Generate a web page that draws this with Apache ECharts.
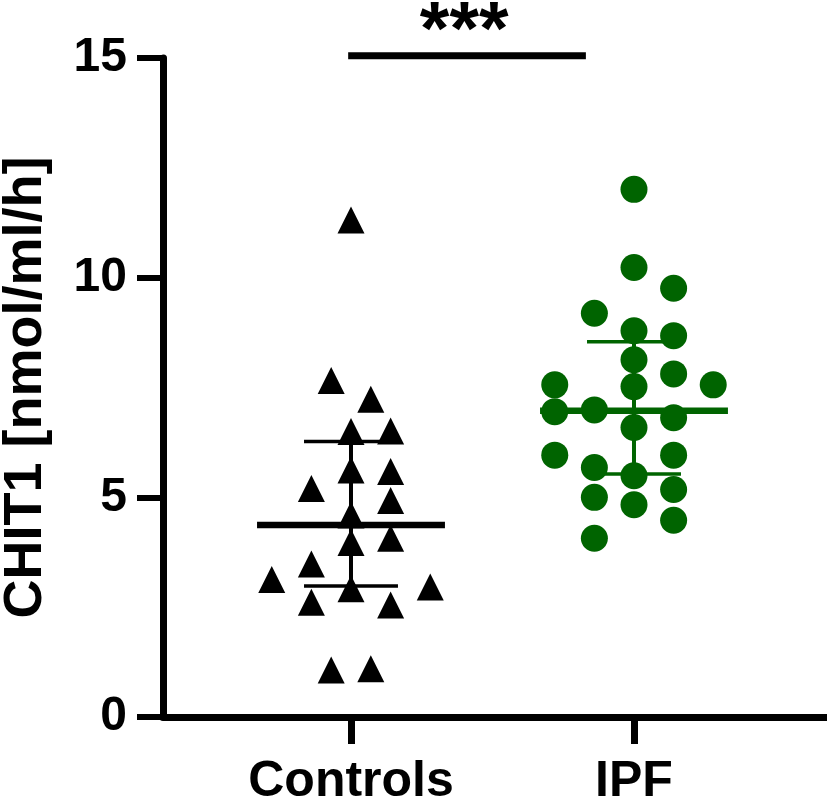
<!DOCTYPE html>
<html lang="en">
<head>
<meta charset="UTF-8">
<title>CHIT1 Controls vs IPF</title>
<script src="https://cdn.jsdelivr.net/npm/echarts@6/dist/echarts.min.js"></script>
</head>
<body style="margin:0;background:#fff">
<div id="main" style="width:827px;height:797px;"></div>
<script>
    // groups on a numeric x axis: Controls = 1, IPF = 2
    var groups = ['Controls', 'IPF'];
    var groupX = [1, 2];

    // Controls (triangles): values and horizontal jitter (x units)
    var controlsValues = [11.31, 7.66, 7.23, 6.50, 6.51, 5.62, 5.59, 5.20, 4.93, 4.60,
                          4.07, 3.97, 3.48, 3.13, 2.92, 2.96, 2.61, 2.55, 1.07, 1.10];
    var controlsJitter = [0, -0.07, 0.07, 0, 0.14, 0, 0.14, -0.14, 0.14, 0,
                          0.14, 0, -0.14, -0.28, 0, 0.28, -0.14, 0.14, -0.07, 0.07];

    // IPF (circles)
    var ipfValues = [12.01, 10.23, 9.76, 9.19, 8.79, 8.68, 8.13, 7.81, 7.56, 7.56, 7.52, 6.95,
                     6.99, 6.81, 6.59, 5.96, 5.96, 5.68, 5.49, 5.18, 5.00, 4.83, 4.48, 4.07];
    var ipfJitter = [0, 0, 0.14, -0.14, 0, 0.14, 0, 0.14, -0.28, 0.28, 0, -0.28,
                     -0.14, 0.14, 0, -0.28, 0.14, -0.14, 0, 0.14, -0.14, 0, 0.14, -0.14];

    // median with interquartile range
    var medians = [4.37, 6.97];
    var q1 = [2.98, 5.53];
    var q3 = [6.27, 8.54];

    var yTicks = [0, 5, 10, 15];

    // significance bracket
    var sigX = [0.99, 1.83];
    var sigY = 15.05;
    var sigText = '***';
    var sigTextPos = [1.40, 15.57];

    var FONT = 'Arial, "Liberation Sans", sans-serif';
    var GREEN = '#006400';

    function points(values, jitter, gx) {
        var out = [];
        for (var i = 0; i < values.length; i++) {
            out.push([gx + jitter[i], values[i]]);
        }
        return out;
    }

    var summaryData = [];
    for (var g = 0; g < groupX.length; g++) {
        summaryData.push([groupX[g], medians[g], q1[g], q3[g]]);
    }
    var summaryColors = ['#000', GREEN];

    function renderSummary(params, api) {
        var x = api.value(0);
        var med = api.coord([x, api.value(1)]);
        var lo = api.coord([x, api.value(2)]);
        var hi = api.coord([x, api.value(3)]);
        var medHalf = api.size([0.332, 0])[0];
        var capHalf = api.size([0.166, 0])[0];
        var color = summaryColors[params.dataIndex];
        function seg(x1, y1, x2, y2, w) {
            return {
                type: 'line',
                shape: {x1: x1, y1: y1, x2: x2, y2: y2},
                style: {stroke: color, lineWidth: w}
            };
        }
        return {
            type: 'group',
            children: [
                seg(lo[0], lo[1], hi[0], hi[1], 4),
                seg(hi[0] - capHalf, hi[1], hi[0] + capHalf, hi[1], 3.5),
                seg(lo[0] - capHalf, lo[1], lo[0] + capHalf, lo[1], 3.5),
                seg(med[0] - medHalf, med[1], med[0] + medHalf, med[1], 6.5)
            ]
        };
    }

    var myChart = echarts.init(document.getElementById('main'));

    var option = {
        animation: false,
        backgroundColor: '#fff',
        grid: {left: 163, right: 0, top: 58, bottom: 80, containLabel: false, outerBoundsMode: 'none'},
        xAxis: {
            type: 'value',
            min: 0.3357,
            max: 2.682,
            splitLine: {show: false},
            axisLine: {show: true, lineStyle: {color: '#000', width: 7}},
            axisTick: {show: true, customValues: groupX, length: 27, lineStyle: {color: '#000', width: 7}},
            axisLabel: {
                customValues: groupX,
                formatter: function (v) { return groups[groupX.indexOf(v)]; },
                color: '#000', fontSize: 50, fontWeight: 'bold', fontFamily: FONT, margin: 40
            }
        },
        yAxis: {
            type: 'value',
            min: 0,
            max: 15,
            interval: 5,
            name: 'CHIT1 [nmol/ml/h]',
            nameLocation: 'middle',
            nameGap: 110,
            nameTextStyle: {color: '#000', fontSize: 54, fontWeight: 'bold', fontFamily: FONT},
            splitLine: {show: false},
            axisLine: {show: true, lineStyle: {color: '#000', width: 7}},
            axisTick: {show: true, length: 26, lineStyle: {color: '#000', width: 6}},
            axisLabel: {
                formatter: function (v) { return yTicks.indexOf(v) >= 0 ? String(v) : ''; },
                color: '#000', fontSize: 48, fontWeight: 'bold', fontFamily: FONT, margin: 36
            }
        },
        series: [
            {
                name: 'Controls',
                type: 'scatter',
                symbol: 'triangle',
                symbolSize: 27,
                itemStyle: {color: '#000', opacity: 1},
                data: points(controlsValues, controlsJitter, groupX[0])
            },
            {
                name: 'IPF',
                type: 'scatter',
                symbol: 'circle',
                symbolSize: 27,
                itemStyle: {color: GREEN, opacity: 1},
                data: points(ipfValues, ipfJitter, groupX[1])
            },
            {
                type: 'custom',
                renderItem: renderSummary,
                data: summaryData,
                z: 3
            },
            {
                type: 'line',
                clip: false,
                symbol: 'none',
                lineStyle: {color: '#000', width: 7},
                data: [[sigX[0], sigY], [sigX[1], sigY]]
            },
            {
                type: 'scatter',
                clip: false,
                symbolSize: 0,
                itemStyle: {opacity: 1},
                label: {
                    show: true, position: 'inside', formatter: sigText,
                    color: '#000', opacity: 1, textBorderWidth: 0,
                    fontSize: 76, fontWeight: 'bold', fontFamily: FONT
                },
                data: [sigTextPos]
            }
        ]
    };

    myChart.setOption(option);
</script>
</body>
</html>
